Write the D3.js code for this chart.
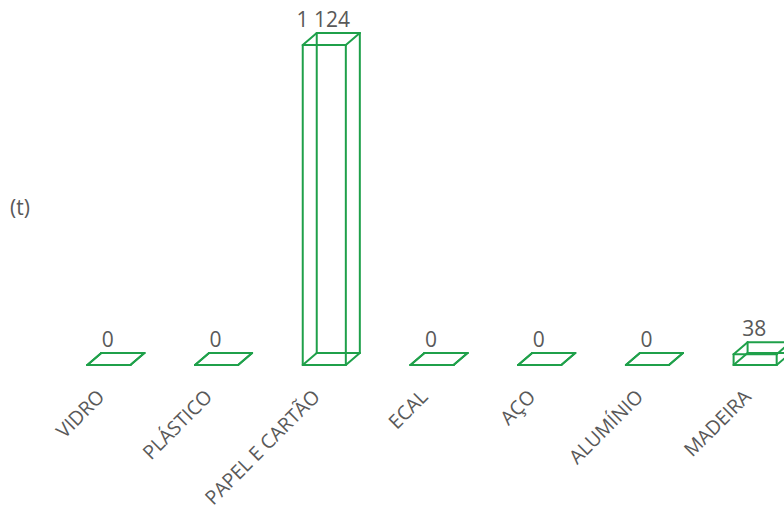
<!DOCTYPE html>
<html><head><meta charset="utf-8">
<script src="https://cdn.jsdelivr.net/npm/d3@7"></script>
<style>body{margin:0;background:#fff}svg{display:block}</style>
</head><body>
<svg id="chart" width="784" height="523"></svg>
<script>
const categories = ["VIDRO","PLÁSTICO","PAPEL E CARTÃO","ECAL","AÇO","ALUMÍNIO","MADEIRA"];
const values = [0,0,1124,0,0,0,38];
const valueLabels = ["0","0","1 124","0","0","0","38"];
const unitLabel = "(t)";

const svg = d3.select("#chart");
const x = d3.scaleBand().domain(categories).range([55, 809]).paddingInner(0.6).paddingOuter(0.3);
const y = d3.scaleLinear().domain([0, 1124]).range([365, 45]);
const dx = 14, dy = -12;
const green = "#1fa04a", txt = "#595959";
const font = "'Open Sans', sans-serif";

const g = svg.append("g");
categories.forEach((c, i) => {
  const x0 = x(c), x1 = x0 + x.bandwidth();
  const yb = y(0), yt = y(values[i]);
  const front = [[x0,yb],[x1,yb],[x1,yt],[x0,yt]];
  const back = front.map(p => [p[0]+dx, p[1]+dy]);
  const segs = [];
  for (let k = 0; k < 4; k++) {
    segs.push([front[k], front[(k+1)%4]]);
    segs.push([back[k], back[(k+1)%4]]);
    segs.push([front[k], back[k]]);
  }
  g.selectAll(null).data(segs).enter().append("line")
    .attr("x1", d => d[0][0]).attr("y1", d => d[0][1])
    .attr("x2", d => d[1][0]).attr("y2", d => d[1][1])
    .attr("stroke", green).attr("stroke-width", 2).attr("stroke-linecap", "round");
  g.append("text").attr("x", (x0+x1)/2 - 1).attr("y", yt + dy - 6)
    .attr("text-anchor", "middle").attr("font-family", font).attr("font-size", 21)
    .attr("fill", txt).text(valueLabels[i]);
  const cx = (x0+x1)/2 - 3;
  g.append("text").attr("transform", `translate(${cx},398) rotate(-45)`)
    .attr("text-anchor", "end").attr("font-family", font).attr("font-size", 19.5)
    .attr("fill", txt).text(c);
});
svg.append("text").attr("x", 10).attr("y", 215).attr("font-family", font)
  .attr("font-size", 21).attr("fill", txt).text(unitLabel);
</script>
</body></html>
